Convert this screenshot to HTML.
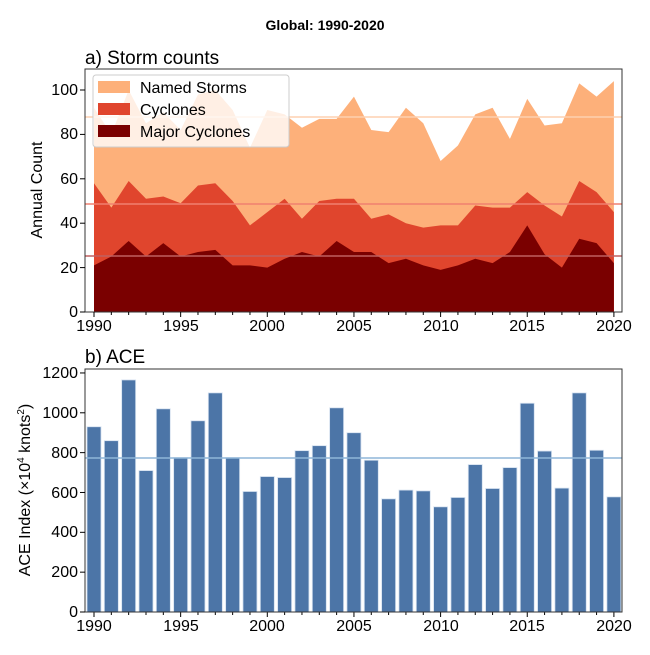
<!DOCTYPE html>
<html><head><meta charset="utf-8"><style>
body{margin:0;background:#fff}
svg text{font-family:"Liberation Sans","DejaVu Sans",sans-serif;fill:#000}
</style></head><body>
<svg id="s" width="650" height="650" xmlns="http://www.w3.org/2000/svg">
<rect width="650" height="650" fill="#fff"/>
<text x="325" y="30" font-size="14" font-weight="bold" text-anchor="middle">Global: 1990-2020</text>
<text x="85" y="64" font-size="19">a) Storm counts</text>
<text x="85" y="363" font-size="19">b) ACE</text>
<g id="gtop"></g>
<g id="gbot"></g>
<g font-size="16" text-anchor="end">
<text x="78" y="317">0</text><text x="78" y="273">20</text><text x="78" y="228">40</text><text x="78" y="184">60</text><text x="78" y="139">80</text><text x="78" y="95">100</text>
<text x="78" y="617">0</text><text x="78" y="577">200</text><text x="78" y="537">400</text><text x="78" y="498">600</text><text x="78" y="458">800</text><text x="78" y="418">1000</text><text x="78" y="378">1200</text>
</g>
<g font-size="16" text-anchor="middle">
<text x="94" y="331">1990</text><text x="181" y="331">1995</text><text x="267" y="331">2000</text><text x="354" y="331">2005</text><text x="441" y="331">2010</text><text x="527" y="331">2015</text><text x="614" y="331">2020</text>
<text x="94" y="631">1990</text><text x="181" y="631">1995</text><text x="267" y="631">2000</text><text x="354" y="631">2005</text><text x="441" y="631">2010</text><text x="527" y="631">2015</text><text x="614" y="631">2020</text>
</g>
<text transform="translate(42,190) rotate(-90)" font-size="16" text-anchor="middle">Annual Count</text>
<text transform="translate(30,490) rotate(-90)" font-size="16" text-anchor="middle">ACE Index (×10<tspan font-size="10" dy="-6">4</tspan><tspan dy="6"> knots</tspan><tspan font-size="10" dy="-6">2</tspan><tspan dy="6">)</tspan></text>
<g id="leg">
<rect x="93" y="75" width="196" height="72" rx="3" fill="#fff" fill-opacity="0.8" stroke="#ccc"/>
<rect x="98" y="81" width="32" height="12" fill="#fdb07a"/>
<rect x="98" y="103" width="32" height="12" fill="#e0452d"/>
<rect x="98" y="125" width="32" height="12" fill="#7a0000"/>
<text x="140" y="93" font-size="16">Named Storms</text>
<text x="140" y="115" font-size="16">Cyclones</text>
<text x="140" y="137" font-size="16">Major Cyclones</text>
</g>
</svg>
<script>
(function(){
var N=[92,80,100,85,90,82,98,100,91,74,91,89,83,87,87,97,82,81,92,85,68,75,89,92,78,96,84,85,103,97,104];
var C=[58,47,59,51,52,49,57,58,50,39,45,51,42,50,51,51,42,44,40,38,39,39,48,47,47,54,48,43,59,54,45];
var M=[21,25,32,25,31,25,27,28,21,21,20,24,27,25,32,27,27,22,24,21,19,21,24,22,27,39,26,20,33,31,22];
var A=[930,860,1165,710,1020,775,960,1100,775,605,680,675,810,835,1025,900,762,568,612,608,528,575,740,620,725,1048,808,622,1100,812,578];
function X(i){return 94+i*17.33}
function Yt(v){return 312-v*2.22}
function Yb(v){return 612-v*0.1992}
var ns="http://www.w3.org/2000/svg";
function el(p,t,a){var e=document.createElementNS(ns,t);for(var k in a)e.setAttribute(k,a[k]);p.appendChild(e);return e}
var gt=document.getElementById('gtop'),gb=document.getElementById('gbot');
function poly(arr,col){var p=[];for(var i=0;i<31;i++)p.push(X(i)+','+Yt(arr[i]));p.push(X(30)+','+312);p.push(X(0)+','+312);el(gt,'polygon',{points:p.join(' '),fill:col})}
poly(N,'#fdb07a');poly(C,'#e0452d');poly(M,'#7a0000');
el(gt,'line',{x1:85,x2:622,y1:117,y2:117,stroke:'#fdd0b0','stroke-width':1.5});
el(gt,'line',{x1:85,x2:622,y1:204,y2:204,stroke:'#f08070','stroke-width':1.5});
el(gt,'line',{x1:85,x2:622,y1:256,y2:256,stroke:'#c06060','stroke-width':1.5});
el(gt,'rect',{x:85,y:69,width:537,height:243,fill:'none',stroke:'#333'});
for(var i=0;i<31;i++){
 el(gb,'rect',{x:X(i)-7,y:Yb(A[i]),width:14,height:612-Yb(A[i]),fill:'#4c75a7',stroke:'#d6e2f0','stroke-width':0.8});
 var tl=(i%5==0)?5:3;
 el(gt,'line',{x1:X(i),x2:X(i),y1:312,y2:312+tl,stroke:'#000'});
 el(gb,'line',{x1:X(i),x2:X(i),y1:612,y2:612+tl,stroke:'#000'});
}
el(gb,'line',{x1:85,x2:622,y1:458,y2:458,stroke:'#8fb6d8','stroke-width':1.5});
el(gb,'rect',{x:85,y:369,width:537,height:243,fill:'none',stroke:'#333'});
[0,20,40,60,80,100].forEach(function(v){el(gt,'line',{x1:80,x2:85,y1:Yt(v),y2:Yt(v),stroke:'#000'})});
[0,200,400,600,800,1000,1200].forEach(function(v){el(gb,'line',{x1:80,x2:85,y1:Yb(v),y2:Yb(v),stroke:'#000'})});
})();
</script>
</body></html>
